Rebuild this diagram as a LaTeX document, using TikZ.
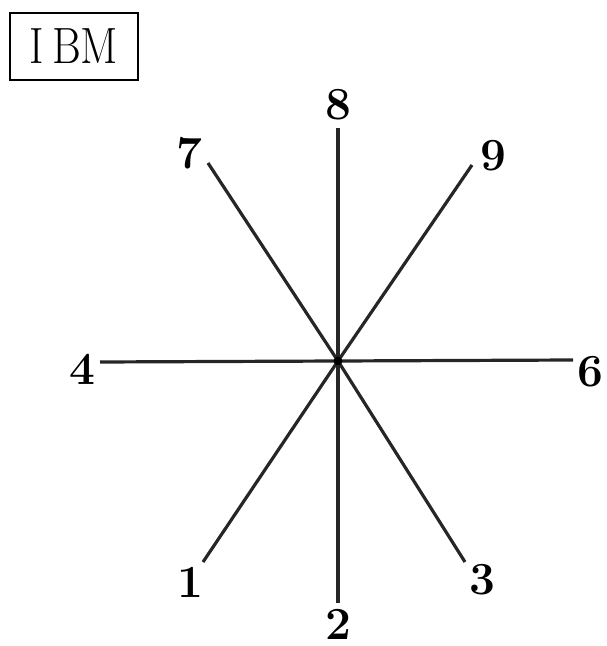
\documentclass[tikz,border=0pt]{standalone}
\begin{document}
\begin{tikzpicture}[x=0.5pt,y=-0.5pt,
  ray/.style={line width=1.6pt,black!85},
  num/.style={inner sep=0pt,font=\fontsize{23}{25}\selectfont\bfseries},
  boxlabel/.style={draw,line width=1.3pt,minimum width=64pt,minimum height=33.5pt,inner sep=0pt,
    font=\fontsize{25.5}{28}\selectfont}]
\useasboundingbox (0,0) rectangle (606,646);
\node[boxlabel] (ibm) at (74,46.5) {\scalebox{0.86}[1]{I\hspace{0.18em}BM}};
\coordinate (c) at (338,361);
\coordinate (e8) at (338,128);
\coordinate (e2) at (338,603);
\coordinate (e4) at (100,362);
\coordinate (e6) at (573,360);
\coordinate (e7) at (208,163);
\coordinate (e9) at (472,165);
\coordinate (e1) at (203,562);
\coordinate (e3) at (465,562);
\foreach \k in {8,2,4,6,7,9,1,3} \draw[ray] (c) -- (e\k);
\fill[black] (c) circle (2.2pt);
\node[num] (n8) at (338,105) {8};
\node[num] (n2) at (338,624) {2};
\node[num] (n4) at (82,369) {4};
\node[num] (n6) at (590,372) {6};
\node[num] (n7) at (189,153) {7};
\node[num] (n9) at (493,156) {9};
\node[num] (n1) at (190,582) {1};
\node[num] (n3) at (482,580) {3};
\end{tikzpicture}
\end{document}
